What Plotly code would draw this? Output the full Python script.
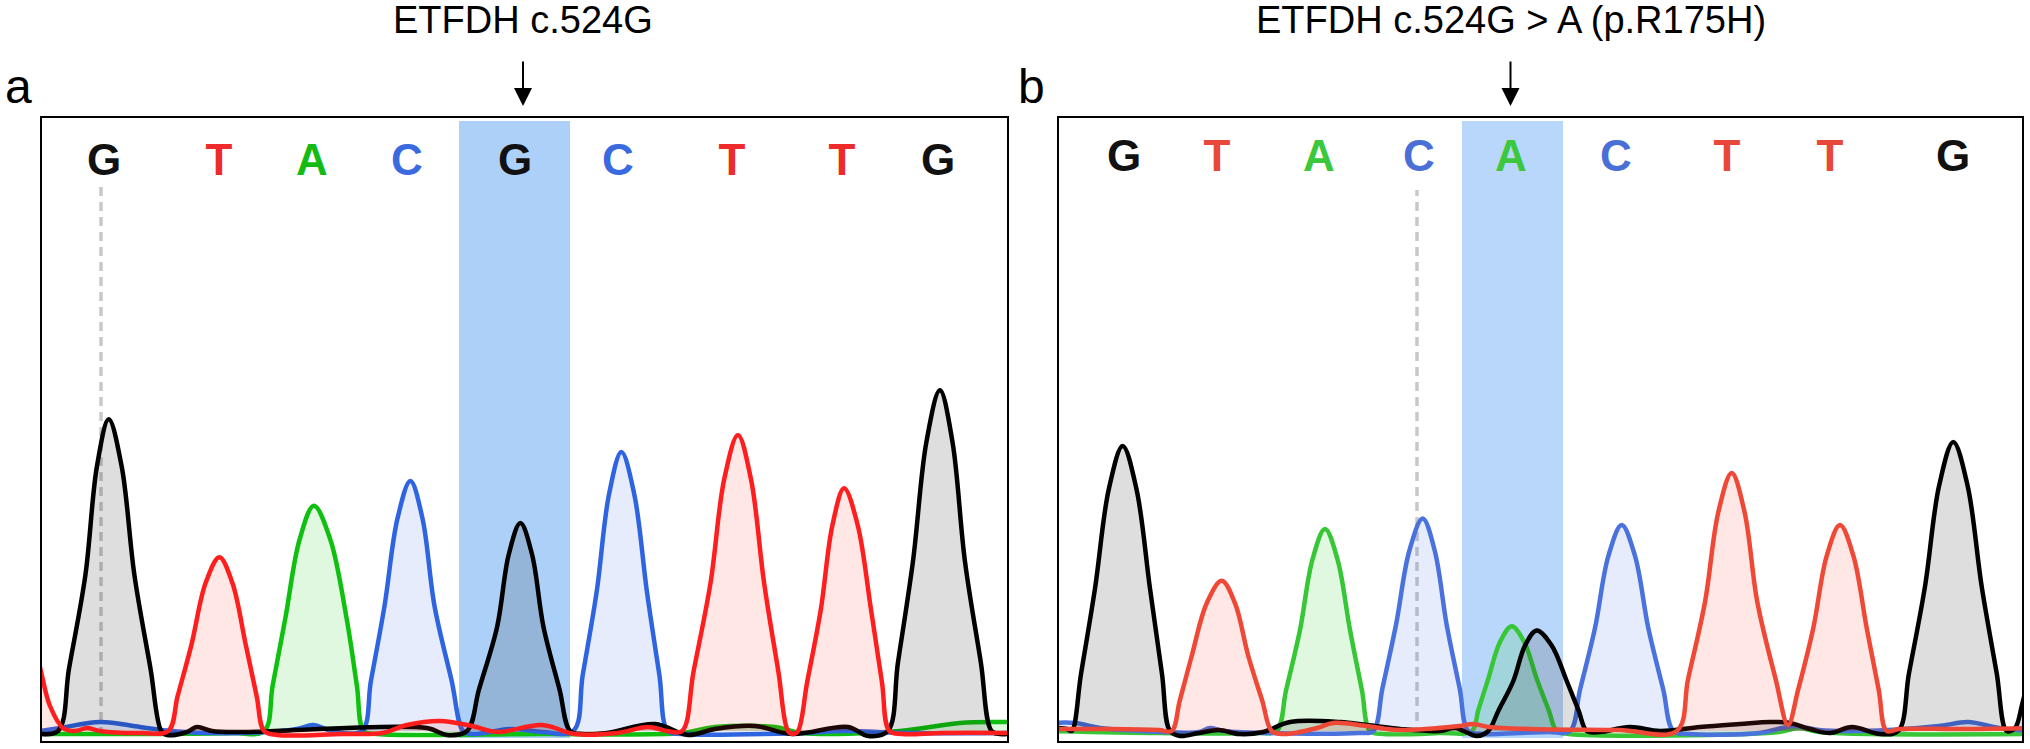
import plotly.graph_objects as go

# ---------------- panel a: ETFDH c.524G (reference) ----------------
# scan position (x) and signal height (y)
a_A_x = [-7, 100, 190, 222.1, 230.6, 243.3, 257.6, 271.9, 288.3, 304.6, 314.9, 321.8, 335, 500, 640, 673, 733, 760,
         858, 918, 958, 972]
a_A_y = [-3, -3, -2, 0, 45.1, 112.6, 191.5, 225.3, 191.5, 112.6, 45.1, 0, -3, -3, -2, 4, 4, -2,
         0, 8, 9, 9]

a_C_x = [-7, 18, 58, 98, 128, 200, 255, 271, 290,
         319.8, 328.9, 342.5, 355.5, 368.4, 380.5, 392.5, 409.7, 421.1,
         430, 470, 500,
         531.3, 540.7, 554.7, 567.1, 579.4, 592.2, 604.9, 617.4, 625.8,
         640, 760, 800, 870, 972]
a_C_y = [-1, 3, 9, 4, 0, -2, 2, 6, 0,
         0, 50, 125, 212.6, 250.1, 212.6, 125, 50, 0,
         -3, 2, -1,
         0, 55.8, 139.5, 237.1, 278.9, 237.1, 139.5, 55.8, 0,
         -3, -2, 0, -2, -2]

a_G_x = [-7, 16, 27.0, 43.4, 55.0, 66.7, 79.6, 92.4, 108.5, 119.2,
         125, 145, 155, 170, 200, 385, 405,
         425, 437.0, 455.1, 466.8, 478.4, 490.0, 501.5, 517.5, 528.1,
         540, 565, 613, 646, 673, 713, 750, 806, 826,
         845.8, 855.9, 871, 884.5, 897.9, 910.4, 922.9, 938.9, 949.5,
         958, 972]
a_G_y = [-2, 0, 62.4, 156, 265, 311.8, 265, 156, 62.4, 0,
         -4, -1, 4, 0, -1, 3, -4,
         0, 41.6, 104, 176.8, 208, 176.8, 104, 41.6, 0,
         -3, -2, 7, -4, 2, 5, -3, 4, -5,
         0, 68.1, 170, 289.6, 340.7, 289.6, 170, 68.1, 0,
         -3, -2]

a_T_x = [-22, -7, 0, 8, 21, 33, 45, 58, 100,
         126.3, 135.6, 149.6, 163.5, 177.4, 190.5, 203.6, 214.7, 222.1,
         235, 300, 340, 365, 398, 430, 455, 500, 533, 575, 606, 625,
         640.1, 651.5, 668.5, 682.2, 695.9, 709.0, 722.1, 736.4, 746,
         751,
         756, 765.1, 778.8, 790.5, 802.1, 815.6, 829, 840.0, 847.4,
         860, 900, 972]
a_T_y = [200, 90, 55, 25, 3, 0, 3, 0, -2,
         0, 34.8, 86.9, 147.7, 173.8, 147.7, 86.9, 34.8, 0,
         -4, -3, -2, 6, 10, 5, -1, 6, -3, -2, 4, 0,
         0, 59.2, 148, 251.7, 296.1, 251.7, 148, 59.2, 0,
         -3,
         0, 48.5, 121.4, 206.3, 242.7, 206.3, 121.4, 48.5, 0,
         -3, -2, -2]

a_calls = ["G", "T", "A", "C", "G", "C", "T", "T", "G"]
a_call_pos = [62, 177, 270, 365, 473, 576, 690, 800, 896]
a_marker_pos = 59
a_marker_top = 550
a_highlight = [417, 528]
a_arrow_pos = 481
a_title = "ETFDH c.524G"

# ---------------- panel b: ETFDH c.524G > A (p.R175H) ----------------
b_A_x = [-7, 100, 200,
         217.7, 227.0, 241, 253.5, 266, 278.5, 291, 303, 311,
         325, 380,
         412.7, 419.3, 429.3, 441.0, 452.7, 465.2, 477.7, 489.7, 497.7,
         510, 720, 740, 760, 971]
b_A_y = [0, -2, -2,
         0, 40.4, 101, 171.7, 202, 171.7, 101, 40.4, 0,
         -3, -2,
         0, 20.9, 52.3, 89, 104.7, 89, 52.3, 20.9, 0,
         -3, -1, 3, -1, -3]

b_C_x = [-7, 16, 41, 81, 140, 151, 165, 300,
         314.3, 323.4, 337, 350.4, 363.7, 375.7, 387.7, 400.7, 409.3,
         425, 460, 490,
         511, 521, 536, 549.4, 562.7, 576.0, 589.3, 604.3, 614.3,
         630, 700, 735, 760, 800, 880, 909, 940, 971]
b_C_y = [8, 8, 3, 0, -1, 3, 0, -2,
         0, 42.5, 106.2, 180.5, 212.4, 180.5, 106.2, 42.5, 0,
         -3, -2, -1,
         0, 41.2, 103, 175.1, 206, 175.1, 103, 41.2, 0,
         -3, -2, 5, 1, 0, 5, 9, 3, 0]

b_G_x = [-7, 0, 8,
         12.7, 22.0, 36, 49.9, 63.7, 77.4, 91, 103, 111,
         121, 140, 160, 180, 204, 231, 281, 308, 341, 381, 396, 418,
         429.3, 439.3, 454.3, 466.0, 477.7, 492.7, 507.7, 519.7, 527.7,
         541, 571, 601, 641, 681, 711, 731, 751, 771, 793, 821,
         839.3, 850.0, 866, 880.2, 894.3, 908.5, 922.7, 937.7, 947.7,
         956, 963, 971]
b_G_y = [3, 3, 2,
         0, 57, 142.5, 242.3, 285, 242.3, 142.5, 57, 0,
         -5, -2, 1, -3, -1, 9, 9, 6, 2, 0, 3, -5,
         0, 20.1, 50, 85.4, 100.5, 85.4, 50, 20.1, 0,
         -1, 4, 0, 4, 7, 9, 8, 2, -2, 4, -3,
         0, 57.8, 144.5, 245.7, 289, 245.7, 144.5, 57.8, 0,
         3, 26, 60]

b_T_x = [-7, 50, 100,
         112.7, 120.7, 132.7, 147.7, 162.7, 176.0, 189.3, 203.3, 212.7,
         225, 258, 274, 308, 340, 400, 414, 430, 470, 560,
         617.7, 629.0, 646, 659.4, 672.7, 685.5, 698.3, 716.7,
         729,
         739.1, 754.3, 767.7, 781, 794.4, 807.7, 819.7, 827.7,
         840, 900, 971]
b_T_y = [2, 2, 1,
         0, 30.1, 75, 127.8, 150.3, 127.8, 75, 30.1, 0,
         -3, 3, 8, 5, 1, 5, 7, 4, 2, 1,
         0, 51.6, 129, 219.3, 258, 219.3, 129, 51.6,
         6,
         41.2, 103, 175.1, 206, 175.1, 103, 41.2, 0,
         2, 2, 3]

b_calls = ["G", "T", "A", "C", "A", "C", "T", "T", "G"]
b_call_pos = [65, 158, 260, 360, 452, 557, 668, 771, 894]
b_marker_pos = 358
b_marker_top = 541
b_highlight = [403, 504]
b_arrow_pos = 451.5
b_title = "ETFDH c.524G > A (p.R175H)"

# ---------------- styling ----------------
W, H = 2030, 749
BOX_TOP, BOX_BOTTOM = 118, 741
A_LEFT, A_RIGHT = 42, 1007
B_LEFT, B_RIGHT = 1059, 2022
Y_RANGE = [-10, 613]
CALL_Y = [567, 571]

line_cols = [
    {"A": "#10c010", "C": "#2f64e0", "G": "#000000", "T": "#ff1e1e"},
    {"A": "#36c636", "C": "#4a72dc", "G": "#000000", "T": "#ef4836"},
]
text_cols = [
    {"A": "#14bb14", "C": "#3a6ae0", "G": "#111111", "T": "#ee2a2a"},
    {"A": "#3cc83c", "C": "#4a70d8", "G": "#111111", "T": "#e8483a"},
]
fill_cols = {
    "A": "rgba(0,200,0,0.12)",
    "C": "rgba(60,100,230,0.12)",
    "G": "rgba(0,0,0,0.13)",
    "T": "rgba(255,60,40,0.12)",
}
highlight_cols = ["#acd0f8", "#b9d7fa"]

panels = [
    dict(x={"A": a_A_x, "C": a_C_x, "G": a_G_x, "T": a_T_x},
         y={"A": a_A_y, "C": a_C_y, "G": a_G_y, "T": a_T_y},
         calls=a_calls, call_pos=a_call_pos, marker=a_marker_pos, marker_top=a_marker_top,
         hl=a_highlight, arrow=a_arrow_pos, title=a_title, label="a"),
    dict(x={"A": b_A_x, "C": b_C_x, "G": b_G_x, "T": b_T_x},
         y={"A": b_A_y, "C": b_C_y, "G": b_G_y, "T": b_T_y},
         calls=b_calls, call_pos=b_call_pos, marker=b_marker_pos, marker_top=b_marker_top,
         hl=b_highlight, arrow=b_arrow_pos, title=b_title, label="b"),
]

fig = go.Figure()
shapes = []
annotations = []

for i, p in enumerate(panels):
    xa = "x" if i == 0 else "x2"
    ya = "y" if i == 0 else "y2"
    # dashed cursor line
    fig.add_trace(go.Scatter(
        x=[p["marker"], p["marker"]], y=[-5, p["marker_top"]], mode="lines",
        line=dict(color="#c8c8c8", width=3.5, dash="9px,6px"),
        xaxis=xa, yaxis=ya, showlegend=False, hoverinfo="skip"))
    for base in ["A", "C", "G", "T"]:
        fig.add_trace(go.Scatter(
            x=p["x"][base], y=p["y"][base], mode="lines",
            line=dict(color=line_cols[i][base], width=4.5, shape="spline", smoothing=1.0),
            fill="tozeroy", fillcolor=fill_cols[base],
            xaxis=xa, yaxis=ya, showlegend=False, hoverinfo="skip"))
    fig.add_trace(go.Scatter(
        x=p["call_pos"], y=[CALL_Y[i]] * len(p["calls"]), mode="text",
        text=p["calls"], textposition="middle center",
        textfont=dict(family="Liberation Sans, Arial, sans-serif", size=44, weight="bold",
                      color=[text_cols[i][c] for c in p["calls"]]),
        xaxis=xa, yaxis=ya, showlegend=False, hoverinfo="skip"))
    shapes.append(dict(type="rect", xref=xa, yref=ya + " domain",
                       x0=p["hl"][0], x1=p["hl"][1], y0=0.005, y1=0.995,
                       fillcolor=highlight_cols[i], line=dict(width=0), layer="below"))
    annotations.append(dict(
        text=p["title"], xref=xa, yref="paper", x=p["arrow"], y=1 - 20 / H,
        xanchor="center", yanchor="middle", showarrow=False,
        font=dict(family="Liberation Sans, Arial, sans-serif", size=38, color="black")))
    annotations.append(dict(
        text="", xref=xa, yref="paper", x=p["arrow"], y=1 - 106 / H,
        ax=0, ay=-46, showarrow=True, arrowhead=2, arrowsize=1.8, arrowwidth=2,
        arrowcolor="black"))
    annotations.append(dict(
        text=p["label"], xref="paper", yref="paper",
        x=(18.5 if i == 0 else 1031) / W, y=1 - 86 / H,
        xanchor="center", yanchor="middle", showarrow=False,
        font=dict(family="Liberation Sans, Arial, sans-serif", size=48, color="black")))

axis_common = dict(showgrid=False, zeroline=False, showticklabels=False, ticks="",
                   showline=True, linewidth=2, linecolor="black", mirror=True, fixedrange=True)
ydom = [1 - BOX_BOTTOM / H, 1 - BOX_TOP / H]

fig.update_layout(
    width=W, height=H,
    margin=dict(l=0, r=0, t=0, b=0),
    paper_bgcolor="white", plot_bgcolor="white",
    showlegend=False,
    xaxis=dict(domain=[A_LEFT / W, A_RIGHT / W], range=[0, A_RIGHT - A_LEFT], anchor="y", **axis_common),
    yaxis=dict(domain=ydom, range=Y_RANGE, anchor="x", **axis_common),
    xaxis2=dict(domain=[B_LEFT / W, B_RIGHT / W], range=[0, B_RIGHT - B_LEFT], anchor="y2", **axis_common),
    yaxis2=dict(domain=ydom, range=Y_RANGE, anchor="x2", **axis_common),
    shapes=shapes,
    annotations=annotations,
)

fig.write_html("out.html")
